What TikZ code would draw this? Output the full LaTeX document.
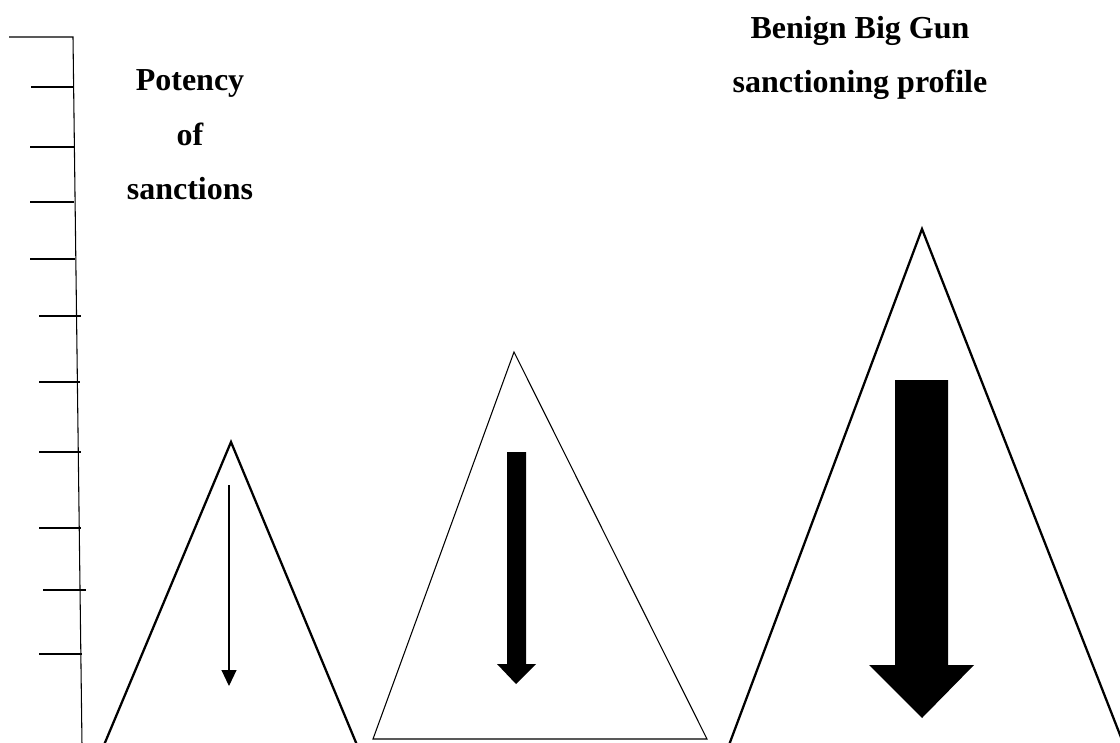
\documentclass[tikz,border=0pt]{standalone}
\usepackage{fontspec}
\setmainfont{Liberation Serif}
\usetikzlibrary{arrows.meta}
\begin{document}
\begin{tikzpicture}[x=0.75pt,y=-0.75pt,
  title/.style={font=\bfseries\fontsize{24}{28}\selectfont, anchor=base, inner sep=0pt},
  axisline/.style={line width=0.8pt},
  tick/.style={line width=0.8pt},
  heavy/.style={line width=1.7pt},
  light/.style={line width=0.8pt},
  blockarrow/.style={fill=black, draw=none}]
\useasboundingbox (0,0) rectangle (1120,742);

% vertical potency scale
\draw[axisline] (9,37) -- (73,37) -- (82,745);
\foreach \y/\a/\b in {87/31/73,147/30/74,202/30/74,259/30/75,316/39/81,382/39/80,452/39/81,528/39/81,590/43/86,654/39/82}
  \draw[tick] (\a,\y) -- (\b,\y);

% captions
\node[title] (p1) at (190,90) {Potency};
\node[title] (p2) at (190,145) {of};
\node[title] (p3) at (190,199) {sanctions};
\node[title] (b1) at (860,39) {Benign Big Gun};
\node[title] (b2) at (860,93) {sanctioning profile};

% small pyramid with a thin arrow
\draw[heavy, line join=miter] (104,745) -- (231,442) -- (357,745);
\draw[light, -{Triangle[length=12pt,width=11.25pt]}] (229,485) -- (229,686);

% middle pyramid with a medium arrow
\draw[light, line join=miter] (373,739) -- (514,352) -- (707,739) -- cycle;
\path[blockarrow] (507,452) -- (526,452) -- (526,664) -- (536,664) -- (516,684)
  -- (497,664) -- (507,664) -- cycle;

% large pyramid with a heavy arrow
\draw[heavy, line join=miter] (729,745) -- (922,229) -- (1124,745);
\path[blockarrow] (895,380) -- (948,380) -- (948,665) -- (974,665) -- (922,718)
  -- (869,665) -- (895,665) -- cycle;
\end{tikzpicture}
\end{document}
